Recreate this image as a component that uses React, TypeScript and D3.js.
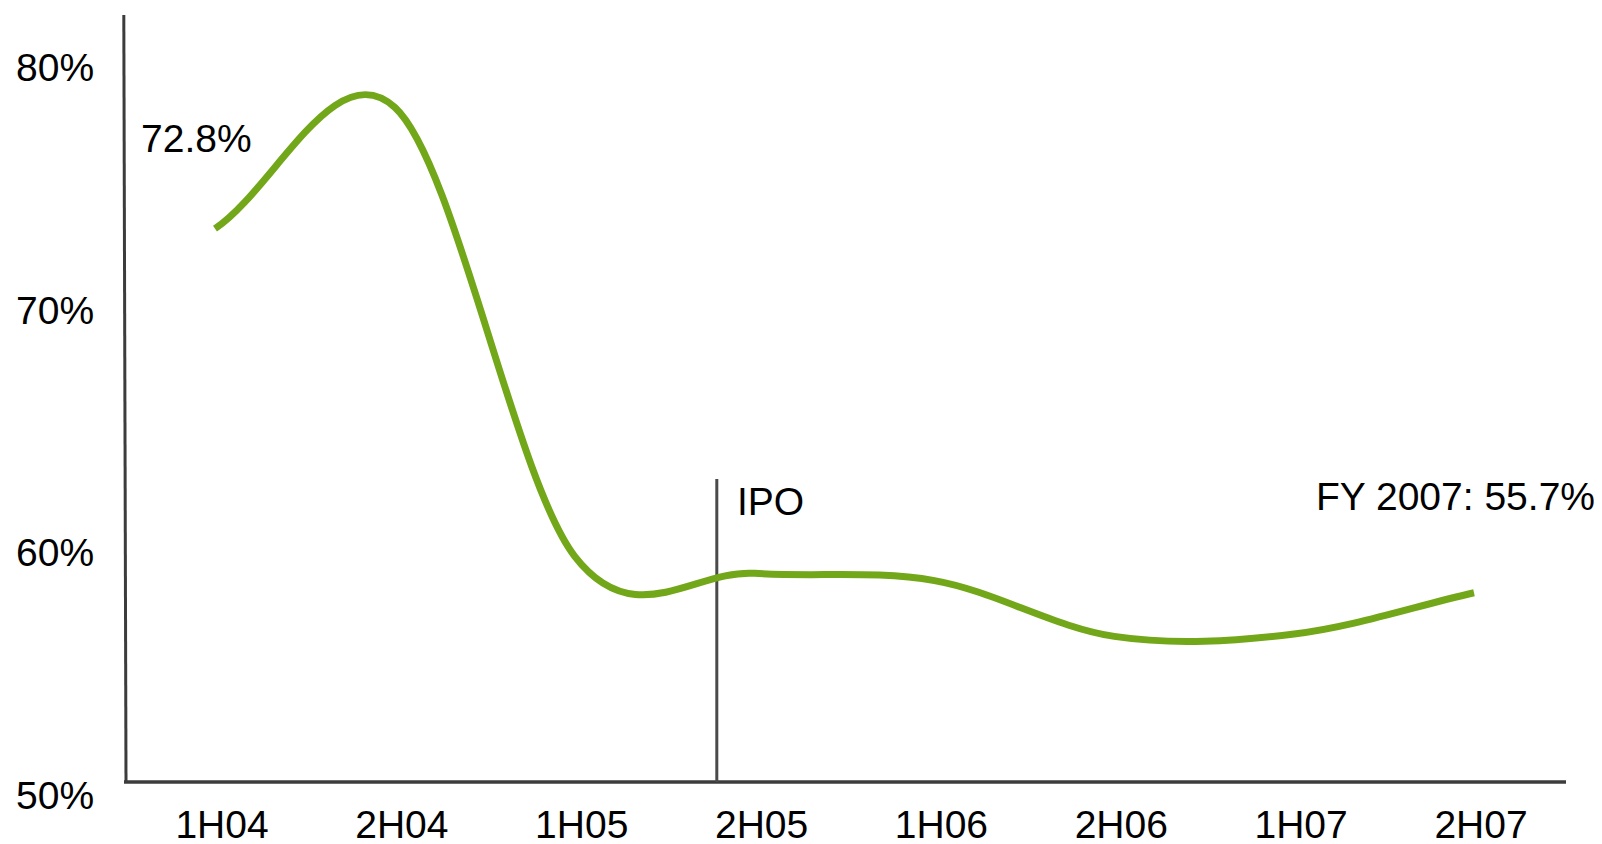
import React from "react";
import * as d3 from "d3";

// Half-year periods along the x axis
const periods = ["1H04", "2H04", "1H05", "2H05", "1H06", "2H06", "1H07", "2H07"];
// Margin (%) for each half-year
const margins = [72.8, 77.8, 59.3, 58.6, 58.3, 56.0, 56.1, 57.8];
// Y axis tick values (%)
const yTicks = [50, 60, 70, 80];
// IPO marker position, in period-index units (between 1H05 and 2H05)
const ipoIndex = 2.79;
const startLabel = "72.8%";
const fyLabel = "FY 2007: 55.7%";

const W = 1602;
const H = 844;
const FONT = "'Liberation Sans', Arial, Helvetica, sans-serif";
const GREEN = "#73a71a";
const AXIS = "#3c3c3c";

// Smoothed-line curve in the spreadsheet style: Catmull-Rom tangents inside,
// with the end tangents taken from reflected phantom points.
class SmoothCurve {
  _context: any;
  _pts: [number, number][] = [];
  constructor(context: any) {
    this._context = context;
  }
  areaStart() {}
  areaEnd() {}
  lineStart() {
    this._pts = [];
  }
  point(x: number, y: number) {
    this._pts.push([+x, +y]);
  }
  lineEnd() {
    const p = this._pts;
    const n = p.length;
    const c = this._context;
    if (!n) return;
    c.moveTo(p[0][0], p[0][1]);
    if (n === 1) return;
    if (n === 2) {
      c.lineTo(p[1][0], p[1][1]);
      return;
    }
    const get = (i: number): [number, number] => {
      if (i < 0) return [2 * p[0][0] - p[1][0], 2 * p[0][1] - p[1][1]];
      if (i >= n) return [2 * p[n - 1][0] - p[n - 2][0], 2 * p[n - 1][1] - p[n - 2][1]];
      return p[i];
    };
    for (let i = 0; i < n - 1; i++) {
      const p0 = get(i - 1);
      const p1 = p[i];
      const p2 = p[i + 1];
      const p3 = get(i + 2);
      c.bezierCurveTo(
        p1[0] + (p2[0] - p0[0]) / 6,
        p1[1] + (p2[1] - p0[1]) / 6,
        p2[0] - (p3[0] - p1[0]) / 6,
        p2[1] - (p3[1] - p1[1]) / 6,
        p2[0],
        p2[1]
      );
    }
  }
}
const curveSmooth = (context: any) => new SmoothCurve(context);

export default function App() {
  if (typeof document !== "undefined") {
    document.body.style.margin = "0";
    document.body.style.overflow = "hidden";
  }

  const x = d3.scaleLinear().domain([0, periods.length - 1]).range([215, 1474]);
  const y = d3.scaleLinear().domain([50, 80]).range([782, 54]);

  const line = d3
    .line<number>()
    .x((_, i) => x(i))
    .y((d) => y(d))
    .curve(curveSmooth as any);

  const baseY = y(50);
  const ipoX = x(ipoIndex);

  return (
    <svg
      width={W}
      height={H}
      style={{ position: "absolute", left: 0, top: 0, background: "#fff" }}
      fontFamily={FONT}
    >
      {/* y axis */}
      <line x1={123.8} y1={15} x2={126} y2={baseY} stroke={AXIS} strokeWidth={3} />
      {/* x axis */}
      <line x1={124} y1={baseY} x2={1566} y2={baseY} stroke={AXIS} strokeWidth={3.5} />

      {yTicks.map((t) => (
        <text key={t} x={16} y={y(t) + 27} fontSize={39} fill="#000">
          {t}%
        </text>
      ))}

      {periods.map((p, i) => (
        <text key={p} x={x(i) + 7} y={838} fontSize={39} textAnchor="middle" fill="#000">
          {p}
        </text>
      ))}

      {/* IPO marker */}
      <line x1={ipoX} y1={479} x2={ipoX} y2={baseY} stroke="#4a4a4a" strokeWidth={3} />
      <text x={737} y={515} fontSize={39} fill="#000">
        IPO
      </text>

      <path d={line(margins) || ""} fill="none" stroke={GREEN} strokeWidth={7} strokeLinecap="butt" />

      <text x={141} y={151.5} fontSize={39} fill="#000">
        {startLabel}
      </text>
      <text x={1595} y={510} fontSize={39} textAnchor="end" fill="#000">
        {fyLabel}
      </text>
    </svg>
  );
}
